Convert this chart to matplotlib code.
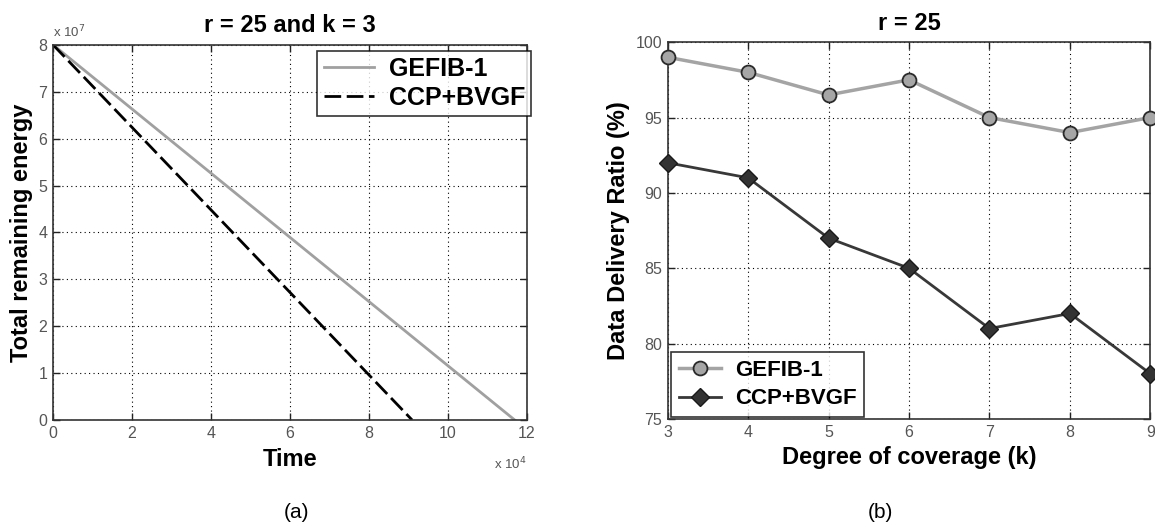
import numpy as np
import matplotlib.pyplot as plt
from matplotlib.ticker import FuncFormatter

# --- data ---
time_gefib = [0, 117000]
energy_gefib = [8e7, 0]
time_ccp = [0, 91000]
energy_ccp = [8e7, 0]

coverage = [3, 4, 5, 6, 7, 8, 9]
ddr_gefib = [99, 98, 96.5, 97.5, 95, 94, 95]
ddr_ccp = [92, 91, 87, 85, 81, 82, 78]

xticks_a = [0, 2, 4, 6, 8, 10, 12]
yticks_a = [0, 1, 2, 3, 4, 5, 6, 7, 8]
yticks_b = [75, 80, 85, 90, 95, 100]

plt.rcParams['font.family'] = ['Liberation Sans', 'DejaVu Sans']

fig = plt.figure(figsize=(11.55, 5.27), dpi=100)
ax1 = fig.add_axes([0.0459, 0.203, 0.410, 0.712])
ax2 = fig.add_axes([0.578, 0.205, 0.418, 0.715])


def style_axes(ax):
	ax.grid(True, linestyle=(0, (1, 3)), color='black', linewidth=0.8)
	ax.tick_params(direction='in', top=True, right=True, length=5, colors='#222222',
	               labelcolor='#555555', width=1, labelsize=11.5, pad=4)
	for s in ax.spines.values():
		s.set_linewidth(1.2)
		s.set_color('#333333')


# (a) remaining energy
ax1.plot(time_gefib, energy_gefib, color='#a0a0a0', linewidth=2, label='GEFIB-1')
ax1.plot(time_ccp, energy_ccp, color='black', linewidth=2, linestyle=(0, (6, 2)), label='CCP+BVGF')
ax1.set_xlim(0, 120000)
ax1.set_ylim(0, 8e7)
ax1.set_xticks([t * 1e4 for t in xticks_a])
ax1.set_yticks([t * 1e7 for t in yticks_a])
ax1.xaxis.set_major_formatter(FuncFormatter(lambda v, p: f'{v / 1e4:g}'))
ax1.yaxis.set_major_formatter(FuncFormatter(lambda v, p: f'{v / 1e7:g}'))
style_axes(ax1)
ax1.text(0.0, 1.012, r'x 10$^7$', transform=ax1.transAxes, fontsize=9.5,
         color='#555555', ha='left', va='bottom')
ax1.text(1.0, -0.095, r'x 10$^4$', transform=ax1.transAxes, fontsize=9.5,
         color='#555555', ha='right', va='top')
ax1.set_title('r = 25 and k = 3', fontsize=17, fontweight='bold', pad=9)
ax1.set_xlabel('Time', fontsize=17, fontweight='bold', labelpad=5)
ax1.set_ylabel('Total remaining energy', fontsize=17, fontweight='bold', labelpad=4)
leg1 = ax1.legend(loc='upper right', bbox_to_anchor=(1.01, 0.984), borderaxespad=0,
                  fancybox=False, edgecolor='black', prop=dict(weight='bold', size=18),
                  handlelength=2.0, handletextpad=0.6, borderpad=0.25, labelspacing=0.2)
leg1.get_frame().set_linewidth(1.2)

# (b) data delivery ratio
ax2.plot(coverage, ddr_gefib, color='#a4a4a4', linewidth=2.5, marker='o', markersize=10,
         markerfacecolor='#a6a6a6', markeredgecolor='#2a2a2a', markeredgewidth=1.3,
         label='GEFIB-1', clip_on=False, zorder=3)
ax2.plot(coverage, ddr_ccp, color='#383838', linewidth=2, marker='D', markersize=9,
         markerfacecolor='#333333', markeredgecolor='#1a1a1a', markeredgewidth=1,
         label='CCP+BVGF', clip_on=False, zorder=3)
ax2.set_xlim(3, 9)
ax2.set_ylim(75, 100)
ax2.set_xticks(coverage)
ax2.set_yticks(yticks_b)
style_axes(ax2)
ax2.set_title('r = 25', fontsize=17, fontweight='bold', pad=9)
ax2.set_xlabel('Degree of coverage (k)', fontsize=17, fontweight='bold', labelpad=5)
ax2.set_ylabel('Data Delivery Ratio (%)', fontsize=17, fontweight='bold', labelpad=4)
leg2 = ax2.legend(loc='lower left', bbox_to_anchor=(0.008, 0.005), borderaxespad=0,
                  fancybox=False, edgecolor='black', prop=dict(weight='bold', size=16),
                  handlelength=1.9, handletextpad=0.6, borderpad=0.35, labelspacing=0.35)
leg2.get_frame().set_linewidth(1.2)

fig.text(297 / 1155, 1 - 513 / 527, '(a)', fontsize=15, ha='center', va='center')
fig.text(880 / 1155, 1 - 513 / 527, '(b)', fontsize=15, ha='center', va='center')

fig.savefig('out.png', dpi=100)
